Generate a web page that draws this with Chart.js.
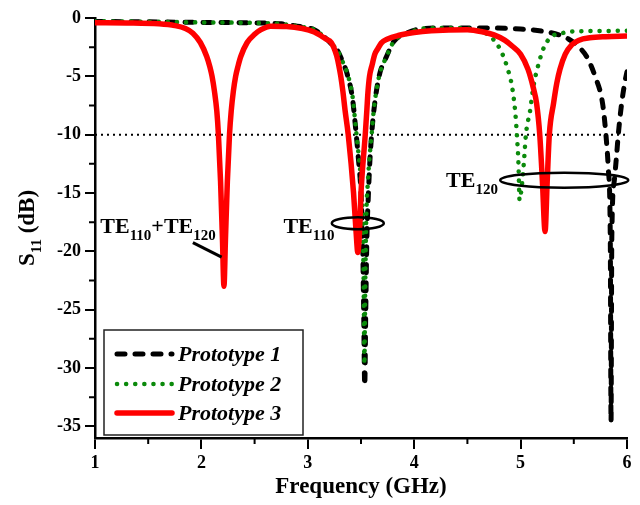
<!DOCTYPE html>
<html>
<head>
<meta charset="UTF-8">
<title>S11 of the three prototypes</title>
<script src="https://cdn.jsdelivr.net/npm/chart.js@4.4.0/dist/chart.umd.min.js"></script>
<style>
  body { margin: 0; background: #fff; }
</style>
</head>
<body>
<canvas id="canvas" width="640" height="505"></canvas>
<script>
// values: frequency in GHz, S11 in dB
const freqP1 = [1.0, 1.5, 2.0, 2.5, 2.75, 2.9, 3.0, 3.06, 3.14, 3.22, 3.28, 3.33, 3.37, 3.42, 3.45, 3.475, 3.5, 3.515, 3.525, 3.535, 3.545, 3.555, 3.57, 3.585, 3.6, 3.62, 3.67, 3.74, 3.81, 3.94, 4.09, 4.3, 4.6, 5.0, 5.25, 5.38, 5.45, 5.55, 5.62, 5.7, 5.77, 5.8, 5.825, 5.843, 5.85, 5.857, 5.88, 5.9, 5.92, 5.95, 5.98, 6.0];
const s11P1 = [-0.3, -0.33, -0.38, -0.42, -0.5, -0.7, -0.85, -1.0, -1.5, -2.2, -2.8, -3.8, -4.8, -6.9, -9.5, -12, -15, -19, -25, -31.5, -25, -19, -15, -12, -10, -8.0, -5.0, -3.3, -2.0, -1.25, -0.9, -0.85, -0.85, -0.95, -1.2, -1.5, -1.8, -2.5, -3.3, -5.0, -7.3, -9.8, -13, -19, -34.6, -19, -14, -12, -9.8, -7.3, -5.5, -4.6];

const freqP2 = [1.0, 1.5, 2.0, 2.5, 2.75, 2.9, 3.0, 3.06, 3.14, 3.22, 3.28, 3.33, 3.37, 3.42, 3.45, 3.475, 3.5, 3.515, 3.525, 3.532, 3.54, 3.55, 3.565, 3.58, 3.6, 3.62, 3.67, 3.74, 3.81, 3.94, 4.09, 4.3, 4.5, 4.6, 4.68, 4.75, 4.82, 4.88, 4.92, 4.95, 4.965, 4.98, 4.99, 5.01, 5.03, 5.05, 5.09, 5.12, 5.17, 5.22, 5.29, 5.39, 5.5, 6.0];
const s11P2 = [-0.28, -0.32, -0.38, -0.42, -0.5, -0.7, -0.85, -1.0, -1.5, -2.2, -2.8, -3.8, -4.7, -6.7, -9.3, -11.5, -14, -17, -23, -29.7, -23, -17, -14, -12, -10, -7.9, -5.0, -3.3, -2.0, -1.3, -0.9, -0.85, -0.9, -1.05, -1.35, -1.9, -2.9, -4.4, -5.9, -8.1, -10, -12.5, -15.6, -14.5, -12.5, -10, -7.9, -5.9, -3.9, -2.5, -1.6, -1.3, -1.15, -1.1];

const freqP3 = [1.0, 1.3, 1.6, 1.75, 1.85, 1.92, 1.99, 2.05, 2.08, 2.1, 2.123, 2.145, 2.16, 2.18, 2.198, 2.212, 2.226, 2.244, 2.264, 2.28, 2.3, 2.322, 2.345, 2.37, 2.43, 2.5, 2.56, 2.65, 2.8, 2.95, 3.06, 3.12, 3.17, 3.22, 3.27, 3.29, 3.31, 3.33, 3.35, 3.38, 3.43, 3.455, 3.47, 3.485, 3.5, 3.54, 3.555, 3.565, 3.58, 3.605, 3.63, 3.66, 3.69, 3.75, 3.85, 4.0, 4.16, 4.5, 4.65, 4.75, 4.85, 4.92, 5.0, 5.07, 5.12, 5.15, 5.18, 5.205, 5.23, 5.25, 5.27, 5.31, 5.34, 5.37, 5.42, 5.48, 5.55, 5.65, 5.8, 6.0];
const s11P3 = [-0.4, -0.42, -0.5, -0.65, -0.9, -1.3, -2.1, -3.3, -4.2, -5.0, -6.3, -8.0, -10, -14, -19, -23, -19, -14, -10, -8.0, -6.3, -5.0, -4.1, -3.3, -2.1, -1.4, -1.0, -0.7, -0.72, -0.9, -1.2, -1.5, -1.8, -2.1, -3.2, -4.0, -5.0, -6.3, -7.9, -10, -15, -18.5, -20.1, -18.5, -15, -10, -7.9, -6.4, -5.0, -4.0, -3.1, -2.6, -2.15, -1.8, -1.5, -1.25, -1.1, -1.0, -1.2, -1.45, -1.9, -2.4, -3.1, -4.4, -6.0, -7.3, -10, -14, -18.3, -14, -10, -7.3, -5.6, -4.4, -3.1, -2.3, -1.9, -1.7, -1.6, -1.55];

const seriesNames = ['Prototype 1', 'Prototype 2', 'Prototype 3'];
const threshold = -10;
const xTicks = [1, 2, 3, 4, 5, 6];
const yTicks = [0, -5, -10, -15, -20, -25, -30, -35];

const SERIF = '"Liberation Serif", "Times New Roman", serif';

function pts(xs, ys) {
  return xs.map((v, i) => ({x: v, y: ys[i]}));
}

// rich text with subscripts: parts = [[text, isSub], ...]
function richText(ctx, parts, x, y, align, size, subSize) {
  const font = s => 'bold ' + s + 'px ' + SERIF;
  let w = 0;
  parts.forEach(p => { ctx.font = font(p[1] ? subSize : size); w += ctx.measureText(p[0]).width; });
  let cx = align === 'center' ? x - w / 2 : align === 'right' ? x - w : x;
  ctx.textAlign = 'left';
  ctx.textBaseline = 'alphabetic';
  parts.forEach(p => {
    ctx.font = font(p[1] ? subSize : size);
    ctx.fillText(p[0], cx, p[1] ? y + 7 : y);
    cx += ctx.measureText(p[0]).width;
  });
}

const decor = {
  id: 'decor',
  afterDraw(chart) {
    const {ctx, chartArea: a, scales: {x, y}} = chart;
    ctx.save();
    ctx.strokeStyle = '#000';
    ctx.fillStyle = '#000';

    // minor ticks
    ctx.lineWidth = 2;
    ctx.beginPath();
    for (let v = 1.5; v < 6; v += 1) {
      const px = x.getPixelForValue(v);
      ctx.moveTo(px, a.bottom); ctx.lineTo(px, a.bottom + 6);
    }
    for (let v = -2.5; v > -36; v -= 5) {
      const py = y.getPixelForValue(v);
      ctx.moveTo(a.left - 6, py); ctx.lineTo(a.left, py);
    }
    ctx.stroke();

    // y title with subscript, rotated
    ctx.save();
    ctx.translate(26, (a.top + a.bottom) / 2);
    ctx.rotate(-Math.PI / 2);
    richText(ctx, [['S', 0], ['11', 1], [' (dB)', 0]], 0, 8, 'center', 23, 15);
    ctx.restore();

    // mode labels
    richText(ctx, [['TE', 0], ['110', 1], ['+TE', 0], ['120', 1]],
      x.getPixelForValue(1.05), y.getPixelForValue(-18.4), 'left', 22, 15);
    richText(ctx, [['TE', 0], ['110', 1]],
      x.getPixelForValue(3.25), y.getPixelForValue(-18.4), 'right', 22, 15);
    richText(ctx, [['TE', 0], ['120', 1]],
      x.getPixelForValue(4.3), y.getPixelForValue(-14.5), 'left', 22, 15);

    ctx.lineWidth = 2.5;
    ctx.setLineDash([]);
    ctx.beginPath();
    ctx.ellipse(x.getPixelForValue(3.47), y.getPixelForValue(-17.6), 26, 6, 0, 0, Math.PI * 2);
    ctx.stroke();
    ctx.beginPath();
    ctx.ellipse(x.getPixelForValue(5.41), y.getPixelForValue(-13.9), 64, 7.5, 0, 0, Math.PI * 2);
    ctx.stroke();

    ctx.lineWidth = 3;
    ctx.beginPath();
    ctx.moveTo(x.getPixelForValue(1.92), y.getPixelForValue(-19.25));
    ctx.lineTo(x.getPixelForValue(2.19), y.getPixelForValue(-20.5));
    ctx.stroke();

    // legend box inside the plot
    const bx = a.left + 9, by = a.bottom - 108, bw = 199, bh = 105;
    ctx.fillStyle = '#fff';
    ctx.fillRect(bx, by, bw, bh);
    ctx.lineWidth = 1.5;
    ctx.strokeStyle = '#222';
    ctx.strokeRect(bx, by, bw, bh);
    const rows = [by + 24, by + 54, by + 83];
    seriesNames.forEach((name, i) => {
      const ds = chart.data.datasets.find(d => d.label === name);
      ctx.save();
      ctx.strokeStyle = ds.borderColor;
      ctx.lineWidth = ds.borderWidth;
      ctx.lineCap = ds.borderCapStyle || 'butt';
      ctx.setLineDash(ds.borderDash || []);
      ctx.beginPath();
      ctx.moveTo(bx + 13, rows[i]);
      ctx.lineTo(bx + 68, rows[i]);
      ctx.stroke();
      ctx.restore();
      ctx.fillStyle = '#000';
      ctx.font = 'italic bold 22px ' + SERIF;
      ctx.textAlign = 'left';
      ctx.textBaseline = 'middle';
      ctx.fillText(name, bx + 74, rows[i] + 1);
    });
    ctx.restore();
  }
};

const tickFont = {family: SERIF, size: 18, weight: 'bold'};

new Chart(document.getElementById('canvas'), {
  type: 'line',
  data: {
    datasets: [
      {
        label: seriesNames[2], data: pts(freqP3, s11P3),
        borderColor: '#ff0000', borderWidth: 5.5, borderCapStyle: 'round', order: 0
      },
      {
        label: seriesNames[1], data: pts(freqP2, s11P2),
        borderColor: '#0b8a0b', borderWidth: 4.5, borderDash: [0.1, 9], borderCapStyle: 'round', order: 1
      },
      {
        label: seriesNames[0], data: pts(freqP1, s11P1),
        borderColor: '#000', borderWidth: 5, borderDash: [8, 10], borderCapStyle: 'round', order: 2
      },
      {
        label: '', data: pts([xTicks[0], xTicks[xTicks.length - 1]], [threshold, threshold]),
        borderColor: '#000', borderWidth: 2, borderDash: [2, 4], order: 3
      }
    ].map(d => Object.assign({pointRadius: 0, fill: false, cubicInterpolationMode: 'monotone'}, d))
  },
  options: {
    responsive: false,
    animation: false,
    events: [],
    layout: {padding: {left: 0, right: 13, top: 18, bottom: 0}},
    plugins: {legend: {display: false}, tooltip: {enabled: false}},
    scales: {
      x: {
        type: 'linear', min: 1, max: 6,
        afterBuildTicks: s => { s.ticks = xTicks.map(v => ({value: v})); },
        afterFit: s => { s.height = 67; },
        ticks: {font: tickFont, color: '#000', padding: 4},
        grid: {drawOnChartArea: false, color: '#000', lineWidth: 2, tickLength: 11},
        border: {color: '#000', width: 2.5},
        title: {display: true, text: 'Frequency (GHz)', color: '#000',
          font: {family: SERIF, size: 23, weight: 'bold'}, padding: {top: 0, bottom: 4}}
      },
      y: {
        type: 'linear', min: -36, max: 0,
        afterBuildTicks: s => { s.ticks = yTicks.map(v => ({value: v})); },
        afterFit: s => { s.width = 95; },
        ticks: {font: tickFont, color: '#000', padding: 4},
        grid: {drawOnChartArea: false, color: '#000', lineWidth: 2, tickLength: 10},
        border: {color: '#000', width: 2.5}
      }
    }
  },
  plugins: [decor]
});
</script>
</body>
</html>
